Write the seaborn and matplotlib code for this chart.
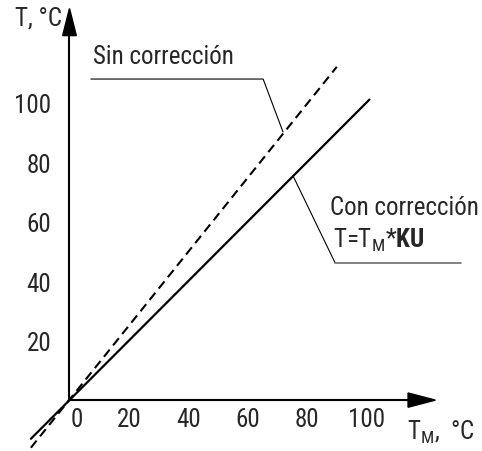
import numpy as np
import pandas as pd
import matplotlib
matplotlib.use("Agg")
import matplotlib.pyplot as plt
import seaborn as sns
from matplotlib.patches import Polygon

# ---- data ----
x_corr = [-13, 101]          # "Con corrección" (solid)
y_corr = [-13, 101]
x_nocorr = [-13, 90]         # "Sin corrección" (dashed)
y_nocorr = [-16, 112]
x_major = [20, 40, 60, 80, 100]
x_minor = [10, 30, 50, 70, 90]
y_major = [20, 40, 60, 80, 100]
y_minor = [10, 30, 50, 70, 90, 110]

sns.set_style("white")
FN = "Roboto Condensed"
FONT = [FN, "Archivo Narrow", "DejaVu Sans"]
plt.rcParams["font.family"] = FONT
plt.rcParams["mathtext.fontset"] = "custom"
plt.rcParams["mathtext.rm"] = FN
plt.rcParams["mathtext.bf"] = FN + ":bold"
plt.rcParams["mathtext.it"] = FN

FS = 18

fig = plt.figure(figsize=(4.82, 4.52), dpi=100)
ax = fig.add_axes([0, 0, 1, 1])
ax.set_facecolor("white")

df1 = pd.DataFrame({"x": x_corr, "y": y_corr})
df2 = pd.DataFrame({"x": x_nocorr, "y": y_nocorr})
sns.lineplot(data=df1, x="x", y="y", ax=ax, color="black", lw=1.6)
sns.lineplot(data=df2, x="x", y="y", ax=ax, color="black", lw=1.5)
ax.lines[-1].set_dashes((4.4, 2.6))

ax.set_xlim(-23.4, 138.9)
ax.set_ylim(-17.1, 134.8)

for s in ["top", "right"]:
    ax.spines[s].set_visible(False)
ax.spines["left"].set_position(("data", 0))
ax.spines["bottom"].set_position(("data", 0))
ax.spines["left"].set_bounds(0, 124)
ax.spines["bottom"].set_bounds(0, 116)
for s in ["left", "bottom"]:
    ax.spines[s].set_linewidth(1.5)
    ax.spines[s].set_color("black")

ax.set_xticks(x_major)
ax.set_xticks(x_minor, minor=True)
ax.set_yticks(y_major)
ax.set_yticks(y_minor, minor=True)
ax.set_xticklabels([str(v) for v in x_major])
ax.set_yticklabels([str(v) for v in y_major])
ax.tick_params(which="both", direction="in", length=4.5, width=1.2, color="black")
ax.tick_params(axis="x", which="major", pad=5, labelsize=FS)
ax.tick_params(axis="y", which="major", pad=13, labelsize=FS)
ax.set_xlabel("")
ax.set_ylabel("")
ax.grid(False)

# zero label on x axis
ax.text(2.5, -2.3, "0", fontsize=FS, ha="center", va="top")

# arrow heads
ax.add_patch(Polygon([[114, 2.4], [114, -2.4], [123.2, 0]], closed=True,
                     color="black", clip_on=False))
ax.add_patch(Polygon([[-2.3, 122.5], [2.3, 122.5], [0, 131.6]], closed=True,
                     color="black", clip_on=False))

# axis titles
ax.text(-2.4, 128.5, "T, °C", fontsize=FS, ha="right", va="center")
ax.text(113.5, -10.5, r"T$_{\mathrm{M}}$,  °C", fontsize=FS, ha="left", va="center")

# annotations
ax.plot([7.2, 65.2, 71.9], [107.9, 107.9, 90.1], color="black", lw=0.8)
ax.text(7.8, 115.5, "Sin corrección", fontsize=FS, ha="left", va="center")
ax.plot([75.3, 89.4], [75.3, 46.2], color="black", lw=0.8)
ax.plot([89.4, 131.8], [46.2, 46.2], color="#6e6e6e", lw=1.2)
ax.text(87.7, 65.0, "Con corrección", fontsize=FS, ha="left", va="center")
ax.text(88.7, 54.0, r"T=T$_{\mathrm{M}}$*$\mathbf{KU}$", fontsize=FS, ha="left", va="center")

fig.savefig("out.png", dpi=100)
